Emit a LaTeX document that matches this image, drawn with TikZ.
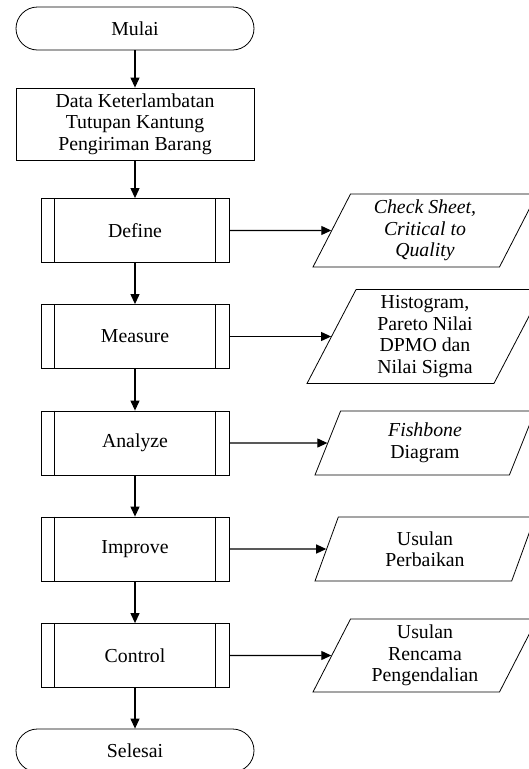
\documentclass[tikz,border=0pt]{standalone}
\usepackage{fontspec}
\setmainfont{Liberation Serif}
\usetikzlibrary{arrows.meta,shapes.geometric}

\begin{document}
\begin{tikzpicture}[x=1pt,y=-1pt,
  font=\fontsize{19.8}{21.5}\selectfont,
  terminal/.style={draw,line width=0.8pt,rounded corners=21.5pt,minimum width=238pt,minimum height=43pt},
  kotak/.style={draw,line width=0.8pt,minimum width=238pt,minimum height=72pt,align=center},
  proses/.style={draw,line width=0.8pt,minimum width=188pt,minimum height=64pt},
  keluaran/.style={draw,line width=0.8pt,trapezium,trapezium left angle=61,trapezium right angle=119,
    trapezium stretches=true,trapezium stretches body=true,align=center},
  panah/.style={line width=1.1pt,-{Triangle[length=10pt,width=9pt]}}]
\useasboundingbox (0,0) rectangle (529,769);
\clip (0,0) rectangle (529,769);
\node[terminal] (mulai) at (135,28.5) {Mulai};
\node[kotak] (data) at (135,124) {Data Keterlambatan\\Tutupan Kantung\\Pengiriman Barang};
\foreach \n/\t/\y in {define/Define/230.5,measure/Measure/336.5,analyze/Analyze/443,improve/Improve/549,control/Control/655.5} {
  \node[proses] (\n) at (135,\y) {\t};
  \draw[line width=0.8pt] ([xshift=14pt]\n.north west) -- ([xshift=14pt]\n.south west);
  \draw[line width=0.8pt] ([xshift=-14pt]\n.north east) -- ([xshift=-14pt]\n.south east);
}
\node[terminal] (selesai) at (135,750.5) {Selesai};
% keluaran tiap tahap
\node[keluaran,minimum width=224pt,minimum height=73pt] (odefine) at (425,230.5) {\textit{Check Sheet,}\\\textit{Critical to}\\\textit{Quality}};
\node[keluaran,minimum width=236pt,minimum height=94pt] (omeasure) at (425,336.5) {Histogram,\\Pareto Nilai\\DPMO dan\\Nilai Sigma};
\node[keluaran,minimum width=220pt,minimum height=64pt] (oanalyze) at (425,443) {\textit{Fishbone}\\Diagram};
\node[keluaran,minimum width=220pt,minimum height=64pt] (oimprove) at (425,549) {Usulan\\Perbaikan};
\node[keluaran,minimum width=224pt,minimum height=73pt] (ocontrol) at (425,655.5) {Usulan\\Rencama\\Pengendalian};
\foreach \a/\b in {mulai/data,data/define,define/measure,measure/analyze,analyze/improve,improve/control,control/selesai}
  \draw[panah] (\a) -- (\b);
\foreach \n in {define,measure,analyze,improve,control}
  \draw[panah] (\n) -- (o\n);
\end{tikzpicture}
\end{document}
